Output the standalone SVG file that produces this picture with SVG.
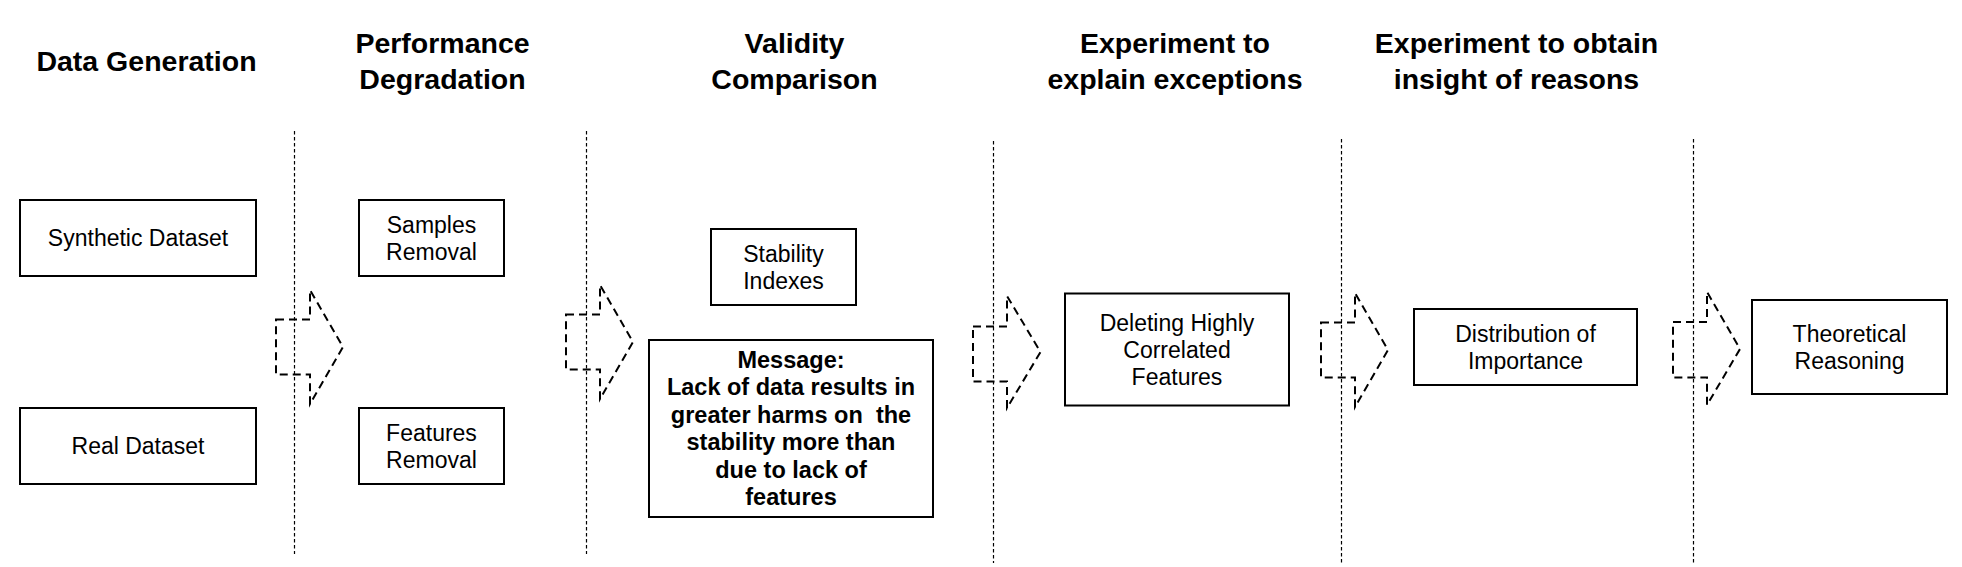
<svg xmlns="http://www.w3.org/2000/svg" width="1962" height="567" viewBox="0 0 1962 567">
<style>
  .title { font-family: "Liberation Sans", Arial, sans-serif; font-weight: bold; font-size: 28.5px; fill: #000; text-anchor: middle; }
  .lbl { font-family: "Liberation Sans", Arial, sans-serif; font-size: 23px; fill: #000; text-anchor: middle; }
  .msg { font-family: "Liberation Sans", Arial, sans-serif; font-weight: bold; font-size: 23.5px; fill: #000; text-anchor: middle; }
  .box { fill: #fff; stroke: #000; stroke-width: 2; }
  .sep { stroke: #000; stroke-width: 1.2; stroke-dasharray: 3.5 2.5; fill: none; }
  .blk { fill: none; stroke: #000; stroke-width: 2; stroke-dasharray: 8 5; }
</style>
<rect width="1962" height="567" fill="#fff"/>

<g id="titles">
  <text class="title" x="146.5" y="71">Data Generation</text>
  <text class="title" x="442.5" y="53">Performance</text>
  <text class="title" x="442.5" y="88.5">Degradation</text>
  <text class="title" x="794.5" y="53">Validity</text>
  <text class="title" x="794.5" y="88.5">Comparison</text>
  <text class="title" x="1175" y="53">Experiment to</text>
  <text class="title" x="1175" y="88.5">explain exceptions</text>
  <text class="title" x="1516.5" y="53">Experiment to obtain</text>
  <text class="title" x="1516.5" y="88.5">insight of reasons</text>
</g>

<g id="separators">
  <line class="sep" x1="294.5" y1="131" x2="294.5" y2="554"/>
  <line class="sep" x1="586.5" y1="131" x2="586.5" y2="554"/>
  <line class="sep" x1="993.5" y1="141" x2="993.5" y2="563"/>
  <line class="sep" x1="1341.5" y1="139" x2="1341.5" y2="563"/>
  <line class="sep" x1="1693.5" y1="139" x2="1693.5" y2="563"/>
</g>

<g id="connectors">
  <path class="blk" d="M276,319.5 L310,319.5 L310,290 L343,347 L310,404 L310,374.5 L276,374.5 Z"/>
  <path class="blk" d="M566,314.5 L600,314.5 L600,285 L633,342 L600,399 L600,369.5 L566,369.5 Z"/>
  <path class="blk" d="M973,326.5 L1007,326.5 L1007,296 L1040.5,352 L1007,408 L1007,381.5 L973,381.5 Z"/>
  <path class="blk" d="M1321,322.5 L1355,322.5 L1355,293 L1388,350 L1355,407 L1355,377.5 L1321,377.5 Z"/>
  <path class="blk" d="M1673,322 L1707,322 L1707,292 L1740,349 L1707,405 L1707,377.5 L1673,377.5 Z"/>
</g>

<g id="synthetic">
  <rect class="box" x="20" y="200" width="236" height="76"/>
  <text class="lbl" x="138" y="246">Synthetic Dataset</text>
</g>
<g id="real">
  <rect class="box" x="20" y="408" width="236" height="76"/>
  <text class="lbl" x="138" y="454">Real Dataset</text>
</g>
<g id="samples">
  <rect class="box" x="359" y="200" width="145" height="76"/>
  <text class="lbl" x="431.5" y="232.5">Samples</text>
  <text class="lbl" x="431.5" y="260">Removal</text>
</g>
<g id="features">
  <rect class="box" x="359" y="408" width="145" height="76"/>
  <text class="lbl" x="431.5" y="440.5">Features</text>
  <text class="lbl" x="431.5" y="468">Removal</text>
</g>
<g id="stability">
  <rect class="box" x="711" y="229" width="145" height="76"/>
  <text class="lbl" x="783.5" y="261.5">Stability</text>
  <text class="lbl" x="783.5" y="289">Indexes</text>
</g>
<g id="message">
  <rect class="box" x="649" y="340" width="284" height="177"/>
  <text class="msg" x="791" y="367.5">Message:</text>
  <text class="msg" x="791" y="395">Lack of data results in</text>
  <text class="msg" x="791" y="422.5">greater harms on&#160; the</text>
  <text class="msg" x="791" y="450">stability more than</text>
  <text class="msg" x="791" y="477.5">due to lack of</text>
  <text class="msg" x="791" y="505">features</text>
</g>
<g id="deleting">
  <rect class="box" x="1065" y="293.5" width="224" height="112"/>
  <text class="lbl" x="1177" y="331">Deleting Highly</text>
  <text class="lbl" x="1177" y="358">Correlated</text>
  <text class="lbl" x="1177" y="385">Features</text>
</g>
<g id="distribution">
  <rect class="box" x="1414" y="309" width="223" height="76"/>
  <text class="lbl" x="1525.5" y="341.5">Distribution of</text>
  <text class="lbl" x="1525.5" y="369">Importance</text>
</g>
<g id="theoretical">
  <rect class="box" x="1752" y="300" width="195" height="94"/>
  <text class="lbl" x="1849.5" y="341.5">Theoretical</text>
  <text class="lbl" x="1849.5" y="369">Reasoning</text>
</g>
</svg>
